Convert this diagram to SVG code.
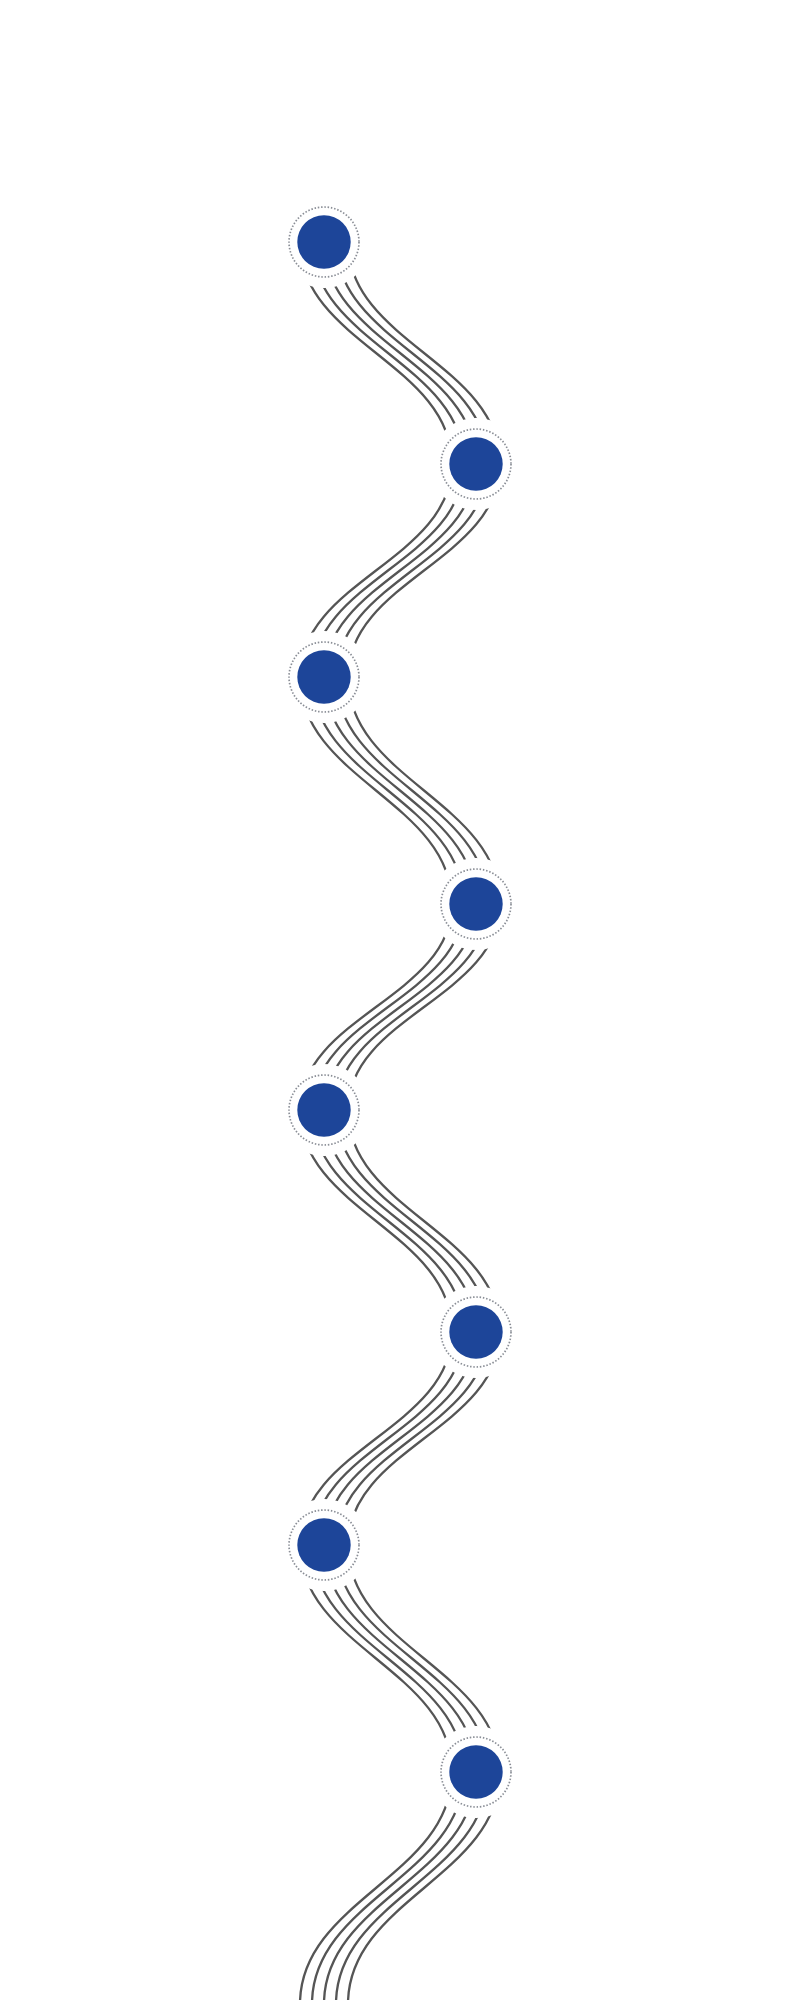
<svg xmlns="http://www.w3.org/2000/svg" xmlns:xlink="http://www.w3.org/1999/xlink" width="800" height="2000" viewBox="0 0 800 2000">
  <style>
    .wire { fill: none; stroke: #555555; stroke-width: 2.3; }
    .halo { fill: #ffffff; }
    .ring { fill: none; stroke: #8a8e96; stroke-width: 1.7; stroke-dasharray: 1.5 1.8; }
    .dot { fill: #1d4599; }
  </style>
  <defs>
    <g id="bundle" class="wire">
      <path d="M324 242 C324 342 476 364 476 464"/>
      <path d="M476 464 C476 560 324 581 324 677"/>
      <path d="M324 677 C324 779 476 802 476 904"/>
      <path d="M476 904 C476 997 324 1017 324 1110"/>
      <path d="M324 1110 C324 1210 476 1232 476 1332"/>
      <path d="M476 1332 C476 1428 324 1449 324 1545"/>
      <path d="M324 1545 C324 1647 476 1670 476 1772"/>
      <path d="M476 1772 C476 1876 324 1900 324 2004"/>
    </g>
  </defs>
  <rect width="800" height="2000" fill="#ffffff"/>
  <g id="connectors">
    <use href="#bundle" xlink:href="#bundle" x="-24"/>
    <use href="#bundle" xlink:href="#bundle" x="-12"/>
    <use href="#bundle" xlink:href="#bundle" x="0"/>
    <use href="#bundle" xlink:href="#bundle" x="12"/>
    <use href="#bundle" xlink:href="#bundle" x="24"/>
  </g>
  <g id="node1"><circle class="halo" cx="324" cy="242" r="46"/><circle class="ring" cx="324" cy="242" r="35"/><circle class="dot" cx="324" cy="242" r="26.7"/></g>
  <g id="node2"><circle class="halo" cx="476" cy="464" r="46"/><circle class="ring" cx="476" cy="464" r="35"/><circle class="dot" cx="476" cy="464" r="26.7"/></g>
  <g id="node3"><circle class="halo" cx="324" cy="677" r="46"/><circle class="ring" cx="324" cy="677" r="35"/><circle class="dot" cx="324" cy="677" r="26.7"/></g>
  <g id="node4"><circle class="halo" cx="476" cy="904" r="46"/><circle class="ring" cx="476" cy="904" r="35"/><circle class="dot" cx="476" cy="904" r="26.7"/></g>
  <g id="node5"><circle class="halo" cx="324" cy="1110" r="46"/><circle class="ring" cx="324" cy="1110" r="35"/><circle class="dot" cx="324" cy="1110" r="26.7"/></g>
  <g id="node6"><circle class="halo" cx="476" cy="1332" r="46"/><circle class="ring" cx="476" cy="1332" r="35"/><circle class="dot" cx="476" cy="1332" r="26.7"/></g>
  <g id="node7"><circle class="halo" cx="324" cy="1545" r="46"/><circle class="ring" cx="324" cy="1545" r="35"/><circle class="dot" cx="324" cy="1545" r="26.7"/></g>
  <g id="node8"><circle class="halo" cx="476" cy="1772" r="46"/><circle class="ring" cx="476" cy="1772" r="35"/><circle class="dot" cx="476" cy="1772" r="26.7"/></g>
</svg>
